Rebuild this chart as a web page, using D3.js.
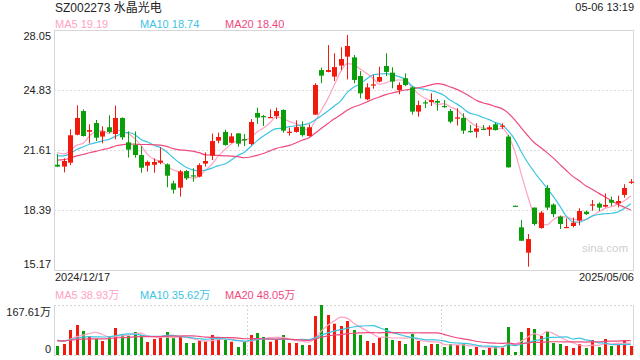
<!DOCTYPE html>
<html><head><meta charset="utf-8">
<script src="https://cdn.jsdelivr.net/npm/d3@7"></script>
<style>
body{margin:0;background:#fff}
svg{display:block}
text{font-family:"Liberation Sans",Arial,"Noto Sans CJK SC",sans-serif}
</style>
</head><body><svg id="c" width="640" height="360"></svg>
<script>
// ---- data ----
const title = "SZ002273 水晶光电";
const timeLabel = "05-06 13:19";
const dates = ["2024/12/17","2024/12/18","2024/12/19","2024/12/20","2024/12/23","2024/12/24","2024/12/25","2024/12/26","2024/12/27","2024/12/30","2024/12/31",
"2025/01/02","2025/01/03","2025/01/06","2025/01/07","2025/01/08","2025/01/09","2025/01/10","2025/01/13","2025/01/14","2025/01/15","2025/01/16","2025/01/17","2025/01/20","2025/01/21","2025/01/22","2025/01/23","2025/01/24","2025/01/27",
"2025/02/05","2025/02/06","2025/02/07","2025/02/10","2025/02/11","2025/02/12","2025/02/13","2025/02/14","2025/02/17","2025/02/18","2025/02/19","2025/02/20","2025/02/21","2025/02/24","2025/02/25","2025/02/26","2025/02/27","2025/02/28",
"2025/03/03","2025/03/04","2025/03/05","2025/03/06","2025/03/07","2025/03/10","2025/03/11","2025/03/12","2025/03/13","2025/03/14","2025/03/17","2025/03/18","2025/03/19","2025/03/20","2025/03/21","2025/03/24","2025/03/25","2025/03/26","2025/03/27","2025/03/28","2025/03/31",
"2025/04/01","2025/04/02","2025/04/03","2025/04/07","2025/04/08","2025/04/09","2025/04/10","2025/04/11","2025/04/14","2025/04/15","2025/04/16","2025/04/17","2025/04/18","2025/04/21","2025/04/22","2025/04/23","2025/04/24","2025/04/25","2025/04/28","2025/04/29","2025/04/30",
"2025/05/06"];
const open = [20.82,20.72,20.93,22.43,23.70,22.59,23.06,22.33,22.83,22.47,23.33,22.02,21.88,21.34,20.77,20.82,20.93,20.84,19.82,19.59,20.48,20.25,20.18,20.88,21.31,22.11,22.58,22.00,22.50,22.20,
21.93,23.60,23.43,23.35,23.43,23.76,22.54,22.58,22.86,22.36,23.51,25.90,25.80,25.55,26.14,26.62,26.58,25.58,24.33,25.08,25.28,26.12,25.76,24.83,25.46,24.97,23.67,24.17,24.19,24.24,
23.97,23.70,23.29,23.33,22.63,22.59,22.75,22.72,22.99,22.86,22.33,18.62,17.46,16.10,18.52,17.42,19.57,18.68,18.03,17.42,17.53,17.82,18.30,18.64,18.73,18.57,18.93,18.75,19.20,19.87];
const close = [20.72,21.02,22.40,23.33,22.36,22.68,22.27,22.61,22.58,23.33,22.29,21.63,21.34,20.66,20.97,20.97,21.04,20.23,19.48,20.46,20.09,20.21,20.80,21.02,22.09,22.31,21.88,22.34,21.95,22.13,
23.11,23.35,23.40,23.38,23.70,22.65,22.59,22.84,22.41,22.83,25.10,25.60,25.90,26.06,26.49,27.19,25.37,24.65,24.97,25.13,25.53,25.80,25.28,25.10,25.10,23.67,24.02,24.11,24.29,24.15,
23.92,23.13,23.36,22.65,22.59,22.77,22.72,22.83,22.68,22.92,20.68,18.61,16.74,16.83,17.64,18.25,18.52,18.17,17.64,17.48,17.71,18.34,18.17,18.69,18.52,18.66,18.78,18.87,19.57,19.91];
const high = [21.40,21.16,22.72,24.01,23.79,22.99,23.22,22.88,23.47,23.99,23.36,22.61,22.61,21.82,21.04,21.16,21.75,20.89,19.96,20.54,20.54,20.63,20.89,21.48,22.49,22.54,22.70,22.52,22.52,22.47,
23.27,23.88,23.49,23.79,23.88,23.79,22.81,23.20,23.15,22.99,25.19,26.03,27.24,26.80,27.12,27.78,26.71,25.85,25.19,25.63,26.08,26.80,26.05,25.24,25.72,25.01,24.26,24.29,24.65,24.33,
24.29,23.81,23.85,23.58,22.95,23.04,22.95,22.93,23.08,23.04,22.42,18.62,17.85,17.10,18.52,18.34,19.73,18.75,18.09,17.94,17.98,18.48,18.35,18.93,18.80,19.28,19.11,19.16,19.77,20.05];
const low = [20.70,20.41,20.80,22.40,22.33,21.97,22.09,21.97,22.50,22.18,22.15,21.20,21.20,20.39,20.45,20.39,20.84,19.61,19.27,19.11,20.00,19.91,20.14,20.72,21.07,21.97,21.84,21.97,21.79,21.82,
21.86,23.01,22.90,23.33,23.27,22.54,22.38,22.54,22.33,22.33,23.49,25.19,25.78,25.31,25.90,25.40,25.19,24.38,24.29,24.90,25.24,25.58,24.92,24.60,25.04,23.51,23.40,23.86,23.97,23.72,
23.88,23.04,22.92,22.47,22.54,22.27,22.68,22.36,22.65,22.74,20.66,18.61,16.74,15.35,17.55,17.39,18.39,18.00,17.37,17.42,17.46,17.57,18.12,18.35,18.34,18.53,18.60,18.53,19.05,19.79];
// volume in 万 (10k shares)
const volume = [30.2,36.9,83.8,100.6,80.4,61.4,53.6,46.9,61.4,90.5,66.0,64.7,77.1,67.0,43.6,53.6,58.0,77.1,58.0,60.3,40.2,40.2,46.9,45.9,67.0,57.0,51.3,44.6,26.8,44.6,
67.0,73.7,60.3,44.6,51.3,67.0,40.2,40.2,33.5,33.5,130.7,167.6,134.1,104.9,97.2,114.0,83.8,67.0,46.9,40.2,57.0,90.5,50.3,46.9,36.9,70.4,46.9,30.2,36.9,36.9,
26.8,36.9,33.5,36.9,20.1,26.8,16.8,26.8,26.8,24.5,93.9,10.1,77.1,90.5,87.2,63.7,77.1,40.2,36.9,30.2,23.5,36.9,23.5,50.3,26.8,53.6,30.2,33.5,50.3,30.2];
// closes / volumes of the 19 sessions before the window (feed the moving averages)
const priorClose = [20.6,20.7,20.9,21.0,20.8,20.7,20.9,21.0,20.9,21.0,21.0,21.2,21.1,21.0,21.25,21.4,21.6,21.8,21.85];
const priorVolume = [52,44,47,55,43,49,50,45,46,49,44,47,50,42,47,58,52,54,56];
const priceTicks = [28.05,24.83,21.61,18.39,15.17];
const volMax = 167.61;
const maPeriods = [5,10,20];
const maColors = ["#ffa2c4","#3cc4e2","#ef4a7e"];
const priceLegend = ["MA5 19.19","MA10 18.74","MA20 18.40"];
const volLegend = ["MA5 38.93万","MA10 35.62万","MA20 48.05万"];

// ---- drawing ----
const svg = d3.select("#c");
const L = 54, R = 634, PT = 30, PB = 270, VT = 305, VB = 355;
const RED = "#f21a0c", GREEN = "#0a9e0a";
const n = close.length;
const x = d3.scaleBand().domain(d3.range(n)).range([L, R]).paddingInner(0.22).paddingOuter(0.11);
const cx = i => x(i) + x.bandwidth() / 2;
const y = d3.scaleLinear().domain([priceTicks[4], priceTicks[0]]).range([PB, PT]);
const yv = d3.scaleLinear().domain([0, volMax]).range([VB, VT]);

function movingAvg(prior, vals, p) {
  const all = prior.concat(vals), off = prior.length;
  return vals.map((v, i) => d3.mean(all.slice(off + i - p + 1, off + i + 1)));
}

// price frame & grid
const g = svg.append("g");
g.selectAll("line.grid").data(priceTicks.slice(1, 4)).join("line")
  .attr("x1", L).attr("x2", R).attr("y1", d => Math.round(y(d)) + 0.5).attr("y2", d => Math.round(y(d)) + 0.5)
  .attr("stroke", "#dcdcdc").attr("stroke-dasharray", "2,2");
g.append("rect").attr("x", L + 0.5).attr("y", PT + 0.5).attr("width", R - L - 1).attr("height", PB - PT)
  .attr("fill", "none").attr("stroke", "#d6d6d6");

// price axis labels
const ax = svg.append("g").attr("transform", `translate(${L - 2},0)`)
  .call(d3.axisLeft(y).tickValues(priceTicks).tickSize(0).tickPadding(1).tickFormat(d3.format(".2f")));
ax.select(".domain").remove();
ax.selectAll("text").attr("font-size", 11).attr("fill", "#222")
  .attr("font-family", '"Liberation Sans",Arial,sans-serif')
  .attr("dy", (d, i) => i === 0 ? "0.85em" : (i === priceTicks.length - 1 ? "-0.25em" : "0.32em"));

// watermark
svg.append("text").attr("x", 582).attr("y", 252).attr("font-size", 11.5).attr("fill", "#cfcfcf").text("sina.com");

// MA lines (price)
const line = d3.line().x((d, i) => cx(i)).y(d => y(d)).curve(d3.curveMonotoneX);
maPeriods.forEach((p, k) => {
  svg.append("path").datum(movingAvg(priorClose, close, p)).attr("d", line)
    .attr("fill", "none").attr("stroke", maColors[k]).attr("stroke-width", 1.2);
});

// candles
const idx = d3.range(n);
const cg = svg.append("g");
cg.selectAll("line.wick").data(idx).join("line")
  .attr("x1", i => Math.round(cx(i)) + 0.5).attr("x2", i => Math.round(cx(i)) + 0.5)
  .attr("y1", i => y(high[i])).attr("y2", i => Math.max(y(low[i]), y(high[i]) + 1))
  .attr("stroke", i => close[i] >= open[i] ? RED : GREEN).attr("stroke-width", 1);
cg.selectAll("rect.body").data(idx).join("rect")
  .attr("x", i => Math.round(cx(i)) + 0.5 - 2.5).attr("width", 5)
  .attr("y", i => y(Math.max(open[i], close[i])))
  .attr("height", i => Math.max(1.2, Math.abs(y(open[i]) - y(close[i]))))
  .attr("fill", i => close[i] >= open[i] ? RED : GREEN);

// volume panel frame
const vg = svg.append("g");
vg.selectAll("line.h").data([VT, VB]).join("line")
  .attr("x1", L).attr("x2", R).attr("y1", d => d + 0.5).attr("y2", d => d + 0.5)
  .attr("stroke", "#d6d6d6").attr("stroke-dasharray", "2,2");
vg.selectAll("line.v").data([L + (R - L) / 3, L + 2 * (R - L) / 3]).join("line")
  .attr("x1", d => Math.round(d) + 0.5).attr("x2", d => Math.round(d) + 0.5).attr("y1", VT).attr("y2", VB)
  .attr("stroke", "#d6d6d6").attr("stroke-dasharray", "2,2");
vg.selectAll("line.s").data([L, R - 1]).join("line")
  .attr("x1", d => d + 0.5).attr("x2", d => d + 0.5).attr("y1", VT).attr("y2", VB)
  .attr("stroke", "#d6d6d6");

// volume bars
svg.append("g").selectAll("rect").data(idx).join("rect")
  .attr("x", i => Math.round(cx(i)) + 0.5 - 1.5).attr("width", 3)
  .attr("y", i => yv(volume[i])).attr("height", i => VB - yv(volume[i]))
  .attr("fill", i => close[i] >= open[i] ? RED : GREEN);

// volume MA lines
const vline = d3.line().x((d, i) => cx(i)).y(d => yv(d)).curve(d3.curveMonotoneX);
maPeriods.forEach((p, k) => {
  svg.append("path").datum(movingAvg(priorVolume, volume, p)).attr("d", vline)
    .attr("fill", "none").attr("stroke", maColors[k]).attr("stroke-width", 1.2);
});

// volume axis labels
const vax = svg.append("g").attr("transform", `translate(${L - 3},0)`)
  .call(d3.axisLeft(yv).tickValues([volMax, 0]).tickSize(0).tickPadding(0)
    .tickFormat(d => d === 0 ? "0" : d3.format(".2f")(d) + "万"));
vax.select(".domain").remove();
vax.selectAll("text").attr("font-size", 11).attr("fill", "#222")
  .attr("dy", d => d === 0 ? "-0.2em" : "0.95em");

// texts
svg.append("text").attr("x", 55).attr("y", 12).attr("font-size", 12).attr("fill", "#222").text(title);
svg.append("text").attr("x", 634).attr("y", 11).attr("text-anchor", "end").attr("font-size", 11).attr("fill", "#222").text(timeLabel);
const legX = [55, 140, 225];
svg.selectAll("text.pl").data(priceLegend).join("text").attr("class", "pl")
  .attr("x", (d, i) => legX[i]).attr("y", 27.5).attr("font-size", 11).attr("fill", (d, i) => maColors[i]).text(d => d);
svg.selectAll("text.vl").data(volLegend).join("text").attr("class", "vl")
  .attr("x", (d, i) => legX[i]).attr("y", 298.5).attr("font-size", 11).attr("fill", (d, i) => maColors[i]).text(d => d);
svg.append("text").attr("x", 55).attr("y", 281).attr("font-size", 11).attr("fill", "#222").text(dates[0]);
svg.append("text").attr("x", 634).attr("y", 281).attr("text-anchor", "end").attr("font-size", 11).attr("fill", "#222").text(dates[n - 1]);
</script></body></html>
